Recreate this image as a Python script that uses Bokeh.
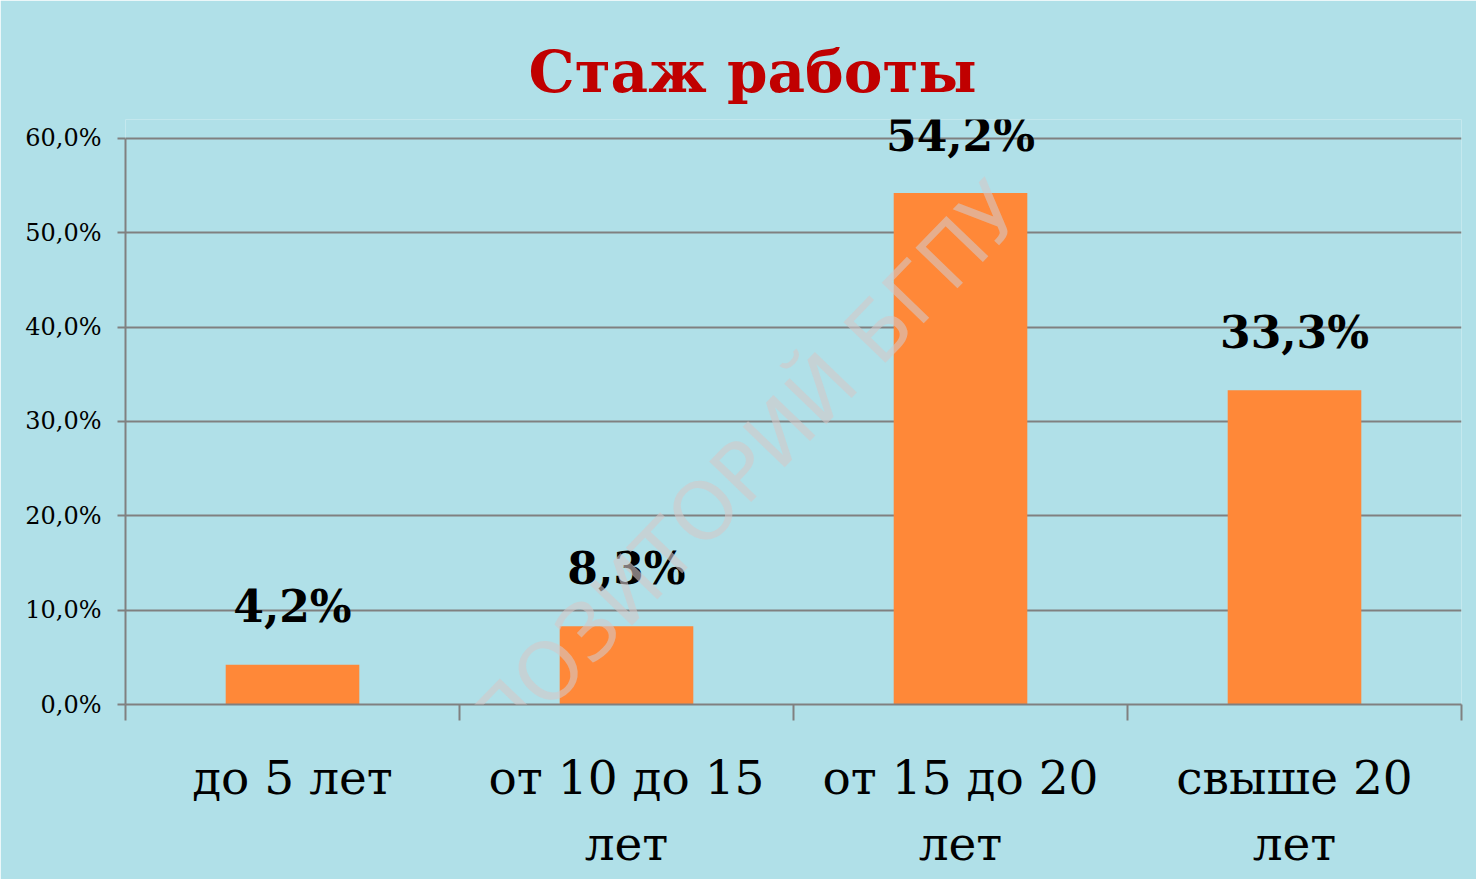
from bokeh.plotting import figure
from bokeh.models import Range1d, FixedTicker, Label
from bokeh.embed import file_html
from bokeh.resources import INLINE
from bokeh.core.properties import value

# ---- data ----
categories = ["до 5 лет", "от 10 до 15\nлет", "от 15 до 20\nлет", "свыше 20\nлет"]
values = [4.2, 8.3, 54.2, 33.3]
value_labels = ["4,2%", "8,3%", "54,2%", "33,3%"]
y_ticks = [0, 10, 20, 30, 40, 50, 60]
y_tick_labels = ["0,0%", "10,0%", "20,0%", "30,0%", "40,0%", "50,0%", "60,0%"]
title_text = "Стаж работы"
watermark_text = "РЕПОЗИТОРИЙ БГПУ"

# ---- layout ----
W, H = 1476, 879
Y_AXIS_MAX = 60
Y_RANGE_MAX = 62          # a little headroom so the top value label is not clipped
px = (704 - 138) / Y_AXIS_MAX   # pixels per data unit
MB = H - 704
MT = int(round(138 - (Y_RANGE_MAX - Y_AXIS_MAX) * px))
ML, MR = 125, 15
n = len(categories)

BG = "#B0E0E8"
GRID = "#808080"
SERIF = "DejaVu Serif"

p = figure(width=W, height=H, x_range=Range1d(0, n), y_range=Range1d(0, Y_RANGE_MAX),
           output_backend="svg", toolbar_location=None,
           min_border_left=ML, min_border_right=MR, min_border_top=MT, min_border_bottom=MB,
           background_fill_color=BG, border_fill_color=BG, outline_line_color=None)

# title
p.title.text = title_text
p.title.align = "left"
p.title.offset = 403
p.title.standoff = 28
p.title.text_font = SERIF
p.title.text_font_style = "bold"
p.title.text_font_size = "58px"
p.title.text_color = "#C00000"

# y axis
p.yaxis.ticker = FixedTicker(ticks=y_ticks)
p.yaxis.bounds = (0, Y_AXIS_MAX)
p.yaxis.major_label_overrides = {t: l for t, l in zip(y_ticks, y_tick_labels)}
p.yaxis.major_label_text_font = SERIF
p.yaxis.major_label_text_font_size = "24px"
p.yaxis.major_label_text_color = "black"
p.yaxis.major_label_standoff = 16
p.yaxis.axis_line_color = GRID
p.yaxis.axis_line_width = 2
p.yaxis.major_tick_line_color = GRID
p.yaxis.major_tick_line_width = 2
p.yaxis.major_tick_out = 8
p.yaxis.major_tick_in = 0
p.yaxis.minor_tick_line_color = None

# x axis: labels at category centres, tick marks at category boundaries
xs = [i + 0.5 for i in range(n)]
x_bounds = list(range(n + 1))
p.xaxis.ticker = FixedTicker(ticks=xs, minor_ticks=x_bounds)
p.xaxis.major_label_overrides = {x: c for x, c in zip(xs, categories)}
p.xaxis.major_label_text_font = SERIF
p.xaxis.major_label_text_font_size = "47px"
p.xaxis.major_label_text_color = "black"
p.xaxis.major_label_text_line_height = 1.2
p.xaxis.major_label_standoff = 29
p.xaxis.axis_line_color = GRID
p.xaxis.axis_line_width = 2
p.xaxis.major_tick_line_color = None
p.xaxis.major_tick_out = 0
p.xaxis.major_tick_in = 0
p.xaxis.minor_tick_line_color = GRID
p.xaxis.minor_tick_line_width = 2
p.xaxis.minor_tick_out = 16
p.xaxis.minor_tick_in = 0

p.xgrid.grid_line_color = None
p.ygrid.ticker = FixedTicker(ticks=y_ticks)
p.ygrid.grid_line_color = GRID
p.ygrid.grid_line_width = 2

# bars
p.vbar(x=xs, top=values, width=0.4, fill_color="#FF8838", line_color=None)

# watermark
p.add_layout(Label(x=587, y=202, x_units="screen", y_units="screen",
                   text=watermark_text, angle=46, angle_units="deg",
                   text_align="center", text_baseline="middle",
                   text_font="DejaVu Sans", text_font_size="80px",
                   text_color="#D4C8C8", text_alpha=0.6, level="overlay"))

# value labels
p.text(x=xs, y=[v + 58 / px for v in values], text=value_labels,
       text_font=value(SERIF), text_font_style="bold", text_font_size="44px",
       text_align="center", text_baseline="alphabetic", text_color="black")

open("out.html", "w").write(file_html(p, INLINE))
